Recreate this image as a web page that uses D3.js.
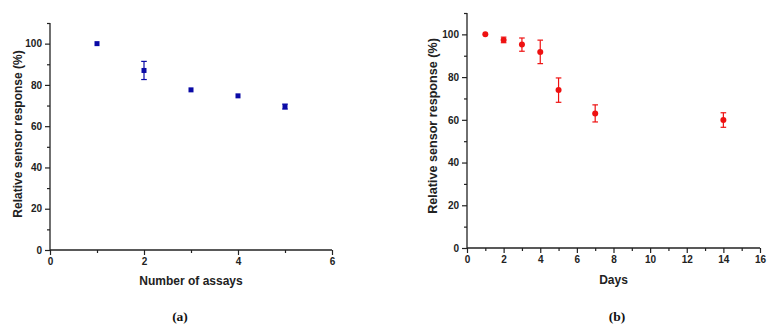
<!DOCTYPE html>
<html>
<head>
<meta charset="utf-8">
<script src="https://cdn.jsdelivr.net/npm/d3@7"></script>
<style>
  body { margin: 0; background: #fff; }
  svg text { font-family: "Liberation Sans", Arial, sans-serif; font-weight: bold; fill: #222; }
  svg text.caption { font-family: "Liberation Serif", "Times New Roman", serif; fill: #111; }
</style>
</head>
<body>
<div id="chart"></div>
<script>
// panel (a): reuse test
const assays = [1, 2, 3, 4, 5];
const assayResponse = [100, 87, 77.6, 74.7, 69.5];
const assayError = [0.4, 4.4, 0.9, 0.6, 1.2];

// panel (b): storage stability
const days = [1, 2, 3, 4, 5, 7, 14];
const dayResponse = [100, 97.4, 95.2, 91.8, 73.9, 63.0, 59.9];
const dayError = [0.4, 1.3, 3.1, 5.5, 5.7, 4.0, 3.4];

const yTicks = [0, 20, 40, 60, 80, 100];
const yMinor = [10, 30, 50, 70, 90, 110];
const xTicksA = [0, 2, 4, 6];
const xMinorA = [1, 3, 5];
const xTicksB = [0, 2, 4, 6, 8, 10, 12, 14, 16];
const xMinorB = [1, 3, 5, 7, 9, 11, 13, 15];

const svg = d3.select("#chart").append("svg")
  .attr("width", 776)
  .attr("height", 336);

function panel(opts) {
  const g = svg.append("g");
  const x = d3.scaleLinear().domain(opts.xDomain).range([opts.left, opts.right]);
  const y = d3.scaleLinear().domain([0, 110]).range([opts.bottom, opts.top]);

  // x axis
  const xa = g.append("g").attr("transform", "translate(0," + opts.bottom + ")");
  xa.call(d3.axisBottom(x).tickValues(opts.xTicks).tickSize(5).tickPadding(3).tickFormat(d3.format("d")));
  xa.append("g").call(d3.axisBottom(x).tickValues(opts.xMinor).tickSize(3).tickFormat(""))
    .select(".domain").remove();

  // y axis
  const ya = g.append("g").attr("transform", "translate(" + opts.left + ",0)");
  ya.call(d3.axisLeft(y).tickValues(yTicks).tickSize(5).tickPadding(3).tickFormat(d3.format("d")));
  ya.append("g").call(d3.axisLeft(y).tickValues(yMinor).tickSize(3).tickFormat(""))
    .select(".domain").remove();

  g.selectAll(".domain").attr("stroke", "#222").attr("stroke-width", 1.3);
  g.selectAll(".tick line").attr("stroke", "#222").attr("stroke-width", 1.2);
  g.selectAll(".tick text").style("font-size", "10px").style("font-family", "Liberation Sans, Arial, sans-serif").style("font-weight", "bold").attr("fill", "#222");
  xa.selectAll(".domain").attr("d", "M" + opts.left + ",0H" + opts.right);
  ya.selectAll(".domain").attr("d", "M0," + opts.bottom + "V" + opts.top);

  // axis titles
  g.append("text")
    .attr("x", (opts.left + opts.right) / 2)
    .attr("y", opts.xTitleY)
    .attr("text-anchor", "middle")
    .style("font-size", "12px")
    .text(opts.xTitle);
  g.append("text")
    .attr("transform", "translate(" + opts.yTitleX + "," + opts.yTitleCy + ") rotate(-90)")
    .attr("text-anchor", "middle")
    .style("font-size", opts.yTitleSize)
    .text("Relative sensor response (%)");

  // error bars
  const pts = opts.xs.map((d, i) => ({ x: d, y: opts.ys[i], e: opts.es[i] }));
  const eb = g.append("g").attr("stroke", opts.color).attr("stroke-width", 1.2);
  eb.selectAll(".v").data(pts).join("line")
    .attr("x1", d => x(d.x)).attr("x2", d => x(d.x))
    .attr("y1", d => y(d.y - d.e)).attr("y2", d => y(d.y + d.e));
  eb.selectAll(".t").data(pts.filter(d => d.e > 1)).join("line")
    .attr("x1", d => x(d.x) - 2.8).attr("x2", d => x(d.x) + 2.8)
    .attr("y1", d => y(d.y + d.e)).attr("y2", d => y(d.y + d.e));
  eb.selectAll(".b").data(pts.filter(d => d.e > 1)).join("line")
    .attr("x1", d => x(d.x) - 2.8).attr("x2", d => x(d.x) + 2.8)
    .attr("y1", d => y(d.y - d.e)).attr("y2", d => y(d.y - d.e));

  // markers
  if (opts.shape === "square") {
    g.selectAll("rect.m").data(pts).join("rect")
      .attr("x", d => x(d.x) - 2.5).attr("y", d => y(d.y) - 2.5)
      .attr("width", 5).attr("height", 5)
      .attr("fill", opts.color);
  } else {
    g.selectAll("circle.m").data(pts).join("circle")
      .attr("cx", d => x(d.x)).attr("cy", d => y(d.y))
      .attr("r", 3)
      .attr("fill", opts.color);
  }

  // caption
  svg.append("text")
    .attr("class", "caption")
    .attr("x", opts.captionX)
    .attr("y", 321)
    .attr("text-anchor", "middle")
    .style("font-size", "13.5px")
    .text(opts.caption);
}

panel({
  xDomain: [0, 6], left: 50, right: 332, top: 23, bottom: 250,
  xTicks: xTicksA, xMinor: xMinorA,
  xs: assays, ys: assayResponse, es: assayError,
  color: "#0a0aa6", shape: "square",
  xTitle: "Number of assays", xTitleY: 285,
  yTitleX: 22, yTitleCy: 134, yTitleSize: "12px",
  caption: "(a)", captionX: 180
});

panel({
  xDomain: [0, 16], left: 467, right: 760, top: 13, bottom: 248,
  xTicks: xTicksB, xMinor: xMinorB,
  xs: days, ys: dayResponse, es: dayError,
  color: "#ee1111", shape: "circle",
  xTitle: "Days", xTitleY: 284,
  yTitleX: 437, yTitleCy: 126, yTitleSize: "12.6px",
  caption: "(b)", captionX: 617
});
</script>
</body>
</html>
